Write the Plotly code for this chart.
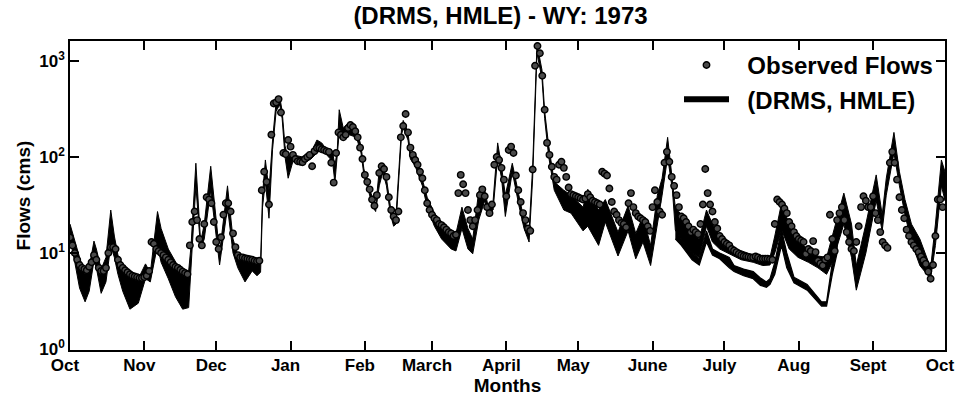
import plotly.graph_objects as go

# ---------------- axis labels ----------------
month_start = [0, 31, 61, 92, 123, 151, 182, 212, 243, 273, 304, 335, 365]
month_label = ["Oct", "Nov", "Dec", "Jan", "Feb", "March", "April", "May",
               "June", "July", "Aug", "Sept", "Oct"]
y_tick_vals = [1, 10, 100, 1000]
y_tick_text = ["10<sup>0</sup>", "10<sup>1</sup>", "10<sup>2</sup>", "10<sup>3</sup>"]
y_minor_vals = [2, 3, 4, 5, 6, 7, 8, 9, 20, 30, 40, 50, 60, 70, 80, 90,
                200, 300, 400, 500, 600, 700, 800, 900]

# ---------------- observed daily flows (cms), day 0 = 1 Oct 1972 ----------------
obs_oct = [14.5, 12, 10, 8.5, 7.5, 7, 6.8, 6.6, 7.2, 8,
           9.5, 8.5, 7, 6.5, 6.5, 7, 10, 11.5, 11.5, 11,
           8.5, 7.5, 7, 6.6, 6.3, 6, 5.8, 5.7, 5.6, 5.5]
obs_nov_feb = [5.5, 5.6, 5.8, 6.5, 13, 12.5, 11, 10.5, 10, 9.5, 9, 8.5, 8, 7.5, 7.2, 7, 6.7, 6.4, 6.2, 6,
               12, 21, 27, 22, 14, 12, 20, 38, 36, 33, 21, 13, 11, 14.6, 25, 33, 33, 27, 16, 11.5,
               9.5, 9, 9, 8.8, 8.7, 8.6, 8.5, 8.3, 8.2, 8.3, 45, 70, 55, 32, 170, 360, 370, 400, 290, 110,
               107, 150, 128, 105, 95, 90, 89, 88, 95, 100, 105, 80, 115, 124, 124, 120, 118, 115, 113, 87,
               54, 110, 180, 170, 160, 170, 200, 215, 205, 185, 160, 125, 95, 65, 55, 46, 36, 31, 40, 68,
               80, 75, 62, 38, 28, 24, 22, 27, 160, 210, 280, 180, 125, 105, 93, 83, 70, 60, 45]
obs_mar_sep = [33, 28, 25, 23, 22, 20, 19.5, 18.5, 17.5, 16.5,
               16, 15, 15.5, 42, 65, 52, 42, 28, 22, 19,
               22, 28, 40, 46, 39, 30, 26, 32, 83, 100,
               93, 77, 58, 39, 118, 128, 110, 64, 45, 34,
               26, 22, 18, 17, 74, 890, 1430, 1200, 700, 310,
               140, 105, 79, 62, 58, 83, 89, 77, 62, 48,
               41, 40, 39, 38, 37, 36, 37, 41, 38, 35,
               34, 33, 32, 70, 67, 64, 47, 34, 27, 25,
               22, 20.5, 20, 18.5, 33, 42, 30, 26, 24, 23,
               22, 21, 19, 17, 30, 45, 34, 27, 25, 87,
               113, 89, 62, 50, 40, 30, 24, 23, 21, 19,
               16.5, 17.5, 16.5, 15.7, 20, 32, 75, 42, 32, 27,
               21, 18, 15, 14, 13, 12.5, 12, 11, 10.6, 10.2,
               9.8, 9.5, 9.3, 9.2, 9.1, 9, 9, 9.2, 9, 8.7,
               8.7, 8.7, 8.7, 8.6, 8.5, 20, 36, 34, 32, 29,
               26, 21, 19, 16.5, 15, 14, 13.5, 13, 9.8, 11,
               10.5, 13.3, 10.2, 8.3, 7.8, 7.4, 8.5, 9, 25, 14,
               10.5, 22, 26, 30, 22, 16.5, 13, 11, 10.5, 13,
               19, 30, 39, 35, 30, 30, 39, 26, 22, 16.5,
               13, 12, 11.3, 87, 113, 87, 58, 38, 28, 23,
               17.5, 15, 13, 12, 11, 10.2, 9.2, 8.4, 7.7, 6.4,
               5.4, 7.5, 15, 36, 36, 30]
observed = obs_oct + obs_nov_feb + obs_mar_sep
assert len(observed) == 365, len(observed)
obs_day = list(range(len(observed)))

# ---------------- (DRMS, HMLE) simulation envelope ----------------
band_day = [0, 2, 4, 6.3, 8, 10, 11, 13, 15, 17, 18.5, 20, 22, 25, 28.5, 31.5, 33.5, 36.5, 38, 41,
            44, 47, 49.5, 50.5, 52.5, 54.5, 56, 58.7, 62.4, 65.7, 68, 70, 73, 76, 78, 79.5, 80.3, 81.5, 83, 84.5,
            86, 87.5, 88.5, 89.7, 91, 93, 97, 100.5, 103, 105, 107, 109.5, 110.5, 111.5, 112.3, 114, 116.5, 119.5, 121.4, 122.6,
            124, 126.4, 127.5, 129, 130.5, 132, 133.7, 135, 136, 138.3, 139, 141, 142, 144, 147, 149, 152, 155, 159, 161,
            163.5, 166, 168, 170.5, 173, 174.5, 176.5, 178.4, 180, 181.6, 184.5, 187.4, 189.4, 191.5, 193, 194.8, 196.9, 198, 199.7, 202,
            206, 209, 214, 216, 220.5, 223.3, 228.6, 232.8, 236, 239, 242.2, 245, 247, 249.3, 251.3, 252.5, 255, 259.5, 262.5, 265.5,
            268, 271, 276, 280, 285, 289, 292, 294, 296.8, 300, 303.7, 308, 312, 315.6, 318, 322.8, 326, 328, 332, 336.3,
            338.8, 340.5, 343.7, 346, 348.3, 351, 354.5, 359, 361, 363.5, 365]
band_hi = [20, 13, 9, 6, 7, 13.3, 11, 6.8, 9, 28, 15, 9.5, 7.5, 6, 5.4, 7.7, 6.2, 27, 18, 11,
           8, 6, 6.5, 12, 86, 13, 20, 80, 10, 50, 14, 9.5, 8.7, 8.5, 8.2, 8, 40, 93, 45, 150,
           380, 420, 300, 130, 100, 105, 100, 110, 150, 140, 120, 115, 80, 120, 310, 200, 230, 200, 130, 75,
           55, 35, 30, 74, 85, 60, 30, 22, 25, 200, 240, 180, 110, 110, 60, 38, 26, 21, 15, 16,
           30, 18, 14, 44, 45, 30, 35, 140, 80, 40, 86, 40, 22, 17, 80, 1500, 800, 300, 130, 55,
           45, 40, 30, 46, 28, 36, 16.5, 31, 16, 24, 12, 40, 60, 160, 60, 30, 25, 17, 14, 28,
           20, 15, 11.5, 10.5, 9.5, 9, 9, 15, 33, 20, 13, 11, 9.3, 9, 15, 42, 20, 7.4, 20, 65,
           25, 60, 180, 70, 36, 20, 14, 7, 20, 93, 70]
band_lo = [14, 8, 4.3, 3.1, 4, 8.3, 7, 3.8, 5, 12, 9, 6, 4, 2.6, 3, 5.4, 5, 12, 8, 5.4,
           3.5, 2.6, 2.7, 8, 50, 11, 14, 45, 7.5, 30, 10, 7, 5, 6.5, 5.8, 6.3, 30, 55, 23, 120,
           300, 350, 250, 100, 60, 90, 85, 95, 110, 120, 105, 90, 54, 100, 180, 150, 170, 160, 110, 65,
           48, 30, 27, 50, 70, 50, 25, 19, 20, 170, 200, 150, 95, 80, 50, 30, 19, 14, 11, 10.5,
           18, 11, 9.8, 22, 35, 25, 28, 100, 60, 24, 70, 30, 18, 13, 60, 1200, 650, 250, 100, 45,
           28, 26, 17, 19, 12, 21, 9.3, 17, 8.7, 13, 7.4, 20, 40, 100, 45, 17.5, 14, 10, 9, 19,
           13, 11, 9.5, 8.5, 8, 7.4, 7.5, 10, 17.5, 11, 9, 8, 7, 6, 8, 20, 9, 4.1, 10, 35,
           17, 40, 110, 50, 25, 13, 7.4, 5.4, 12, 50, 35]
assert len(band_day) == len(band_hi) == len(band_lo), (len(band_day), len(band_hi), len(band_lo))

# lower member of the envelope (summer), separated from the upper one
rib_day = [252.5, 255, 259.5, 262.5, 265.5, 268, 271, 275, 277, 281, 285, 288,
           290.5, 292, 294, 296.8, 299, 302, 307.5, 311, 313.5, 315.6, 318, 320]
rib_hi = [17.5, 14, 10, 8.7, 17, 11, 10, 9, 7.4, 6.8, 6.4, 5.5,
          5, 5.4, 8, 17.5, 10, 5.6, 4.7, 3.7, 3.1, 3.1, 8, 14]
rib_lo = [14, 12, 8.5, 7.5, 13, 9.5, 8.7, 7, 6.4, 5.8, 5.4, 4.6,
          4.4, 4.7, 6, 12, 7, 4.9, 4.1, 3.3, 2.8, 2.8, 6, 10]
assert len(rib_day) == len(rib_hi) == len(rib_lo)

FONT = "Liberation Sans, Arial, Helvetica, sans-serif"

fig = go.Figure()
fig.add_trace(go.Scatter(
    x=band_day + band_day[::-1], y=band_hi + band_lo[::-1],
    mode="lines", fill="toself", fillcolor="black",
    line=dict(color="black", width=1), showlegend=False, hoverinfo="skip"))
fig.add_trace(go.Scatter(
    x=rib_day + rib_day[::-1], y=rib_hi + rib_lo[::-1],
    mode="lines", fill="toself", fillcolor="black",
    line=dict(color="black", width=1.2), showlegend=False, hoverinfo="skip"))
fig.add_trace(go.Scatter(
    x=obs_day, y=observed, mode="markers", name="&nbsp;&nbsp;Observed Flows",
    marker=dict(symbol="circle", size=6.5, color="#4a4a4a",
                line=dict(color="#000000", width=1.4))))
fig.add_trace(go.Scatter(
    x=[None], y=[None], mode="lines", name="&nbsp;&nbsp;(DRMS, HMLE)",
    line=dict(color="black", width=6)))

fig.update_layout(
    width=967, height=400,
    margin=dict(l=70, r=13, t=41, b=48),
    paper_bgcolor="white", plot_bgcolor="white",
    font=dict(family=FONT, color="black"),
    title=dict(text="(DRMS, HMLE) - WY: 1973", x=0.492, xanchor="center",
               xref="paper", y=0.96, yanchor="middle",
               font=dict(size=24, family=FONT, weight="bold")),
    xaxis=dict(
        showline=True, linecolor="black", linewidth=1.5, mirror="ticks",
        ticks="inside", tickcolor="black", ticklen=9, tickwidth=1.5,
        range=[0, 365],
        tickmode="array", tickvals=month_start, ticktext=month_label,
        ticklabelshift=-5, ticklabelstandoff=-1,
        tickfont=dict(size=17, family=FONT, weight="bold"),
        title=dict(text="Months", standoff=0,
                   font=dict(size=19, family=FONT, weight="bold")),
    ),
    yaxis=dict(
        showline=True, linecolor="black", linewidth=1.5, mirror="ticks",
        ticks="inside", tickcolor="black", ticklen=9, tickwidth=1.5,
        type="log", range=[-0.01, 3.207],
        tickmode="array", tickvals=y_tick_vals, ticktext=y_tick_text,
        tickfont=dict(size=17, family=FONT, weight="bold"),
        title=dict(text="Flows (cms)", standoff=4,
                   font=dict(size=19, family=FONT, weight="bold")),
    ),
    # second axis only carries the minor (unlabelled) log ticks
    yaxis2=dict(
        overlaying="y", type="log", range=[-0.01, 3.207],
        showline=False, mirror="ticks", ticks="inside", ticklen=4,
        tickwidth=1, tickcolor="black",
        tickmode="array", tickvals=y_minor_vals, showticklabels=False,
    ),
    legend=dict(
        x=0.992, xanchor="right", y=0.994, yanchor="top",
        bgcolor="rgba(0,0,0,0)", borderwidth=0,
        font=dict(size=24, family=FONT, weight="bold"),
        itemwidth=45,
    ),
    showlegend=True,
)

fig.write_html(
    "out.html",
    config={"displayModeBar": False},
    post_script="document.body.style.margin='0';document.body.style.overflow='hidden';",
)
